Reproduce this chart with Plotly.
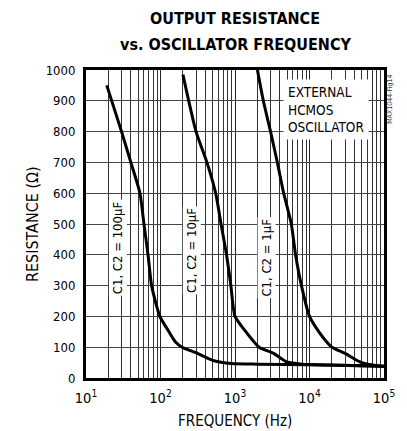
import plotly.graph_objects as go

# Data
freq_100uF = [19, 30, 40, 53, 60, 68, 76, 98, 130, 158, 195, 300, 520, 900, 2000, 10000, 100000]
res_100uF = [950, 800, 700, 600, 500, 400, 300, 200, 150, 118, 100, 82, 56, 47, 45, 43, 38]

freq_10uF = [200, 300, 420, 550, 650, 770, 880, 1000, 1380, 1680, 2100, 3300, 5000, 8000, 20000, 100000]
res_10uF = [985, 800, 700, 600, 500, 400, 300, 200, 152, 126, 100, 80, 52, 45, 42, 38]

freq_1uF = [2000, 2400, 3000, 3700, 4500, 5700, 6500, 7800, 10000, 13600, 16600, 20000, 30000, 50000, 100000]
res_1uF = [1000, 900, 800, 700, 600, 500, 400, 300, 200, 147, 120, 100, 80, 50, 37]

x_tickvals = [10, 100, 1000, 10000, 100000]
x_ticktext = ["10<sup>1</sup>", "10<sup>2</sup>", "10<sup>3</sup>", "10<sup>4</sup>", "10<sup>5</sup>"]
y_tickvals = [0, 100, 200, 300, 400, 500, 600, 700, 800, 900, 1000]

curve_labels = ["C1, C2 = 100µF", "C1, C2 = 10µF", "C1, C2 = 1µF"]

FONT = "DejaVu Sans Condensed, Liberation Sans Narrow, Arial Narrow, sans-serif"

fig = go.Figure()
for fx, ry in [(freq_100uF, res_100uF), (freq_10uF, res_10uF), (freq_1uF, res_1uF)]:
    fig.add_trace(go.Scatter(x=fx, y=ry, mode="lines",
                             line=dict(color="black", width=3, shape="spline", smoothing=0.6),
                             showlegend=False, hoverinfo="skip"))

fig.update_layout(
    width=407, height=431,
    margin=dict(l=86, r=12, t=70, b=53),
    paper_bgcolor="white", plot_bgcolor="white",
    font=dict(family=FONT, color="black", size=13),
    showlegend=False,
)

fig.update_xaxes(
    type="log", range=[1, 5],
    tickvals=x_tickvals, ticktext=x_ticktext,
    showgrid=True, gridcolor="#222", gridwidth=1,
    minor=dict(dtick="D1", showgrid=True, gridcolor="#333", gridwidth=1, ticks=""),
    showline=True, linecolor="black", linewidth=3, mirror=True,
    ticks="", tickfont=dict(size=14.5, family=FONT), ticklabelstandoff=5,
    zeroline=False,
)
fig.update_yaxes(
    range=[0, 1000],
    tickvals=y_tickvals,
    showgrid=True, gridcolor="#444", gridwidth=1,
    showline=True, linecolor="black", linewidth=3, mirror=True,
    ticks="", tickfont=dict(size=13, family=FONT), ticklabelstandoff=5,
    zeroline=False,
)

annotations = [
    dict(text="<b>OUTPUT RESISTANCE</b>", xref="paper", yref="paper", x=0.5, y=1.166,
         showarrow=False, font=dict(size=16, family=FONT), xanchor="center", yanchor="middle"),
    dict(text="<b>vs. OSCILLATOR FREQUENCY</b>", xref="paper", yref="paper", x=0.5, y=1.084,
         showarrow=False, font=dict(size=16, family=FONT), xanchor="center", yanchor="middle"),
    dict(text="FREQUENCY (Hz)", xref="paper", yref="paper", x=0.5, y=-0.141,
         showarrow=False, font=dict(size=15, family=FONT), xanchor="center", yanchor="middle"),
    dict(text="RESISTANCE (Ω)", xref="paper", yref="paper", x=-0.181, y=0.5, textangle=-90,
         showarrow=False, font=dict(size=16, family=FONT), xanchor="center", yanchor="middle"),
    dict(text="MAX1044-Fig14", xref="paper", yref="paper", x=1.022, y=0.905, textangle=-90,
         showarrow=False, font=dict(size=7, family=FONT, color="#444"), xanchor="center", yanchor="middle"),
    dict(text="EXTERNAL<br>HCMOS<br>OSCILLATOR", xref="x", yref="y", x=4.223, y=873,
         showarrow=False, align="left", bgcolor="white", borderpad=4,
         font=dict(size=13.5, family=FONT), xanchor="center", yanchor="middle"),
]
label_pos = [(1.427, 424), (2.424, 413), (3.421, 392)]
for txt, (lx, ly) in zip(curve_labels, label_pos):
    annotations.append(dict(text=txt, xref="x", yref="y", x=lx, y=ly, textangle=-90,
                            showarrow=False, bgcolor="white", borderpad=1,
                            font=dict(size=13, family=FONT), xanchor="center", yanchor="middle"))
fig.update_layout(annotations=annotations)

fig.write_html("out.html", config={"displayModeBar": False},
               post_script="document.body.style.margin='0px';")
